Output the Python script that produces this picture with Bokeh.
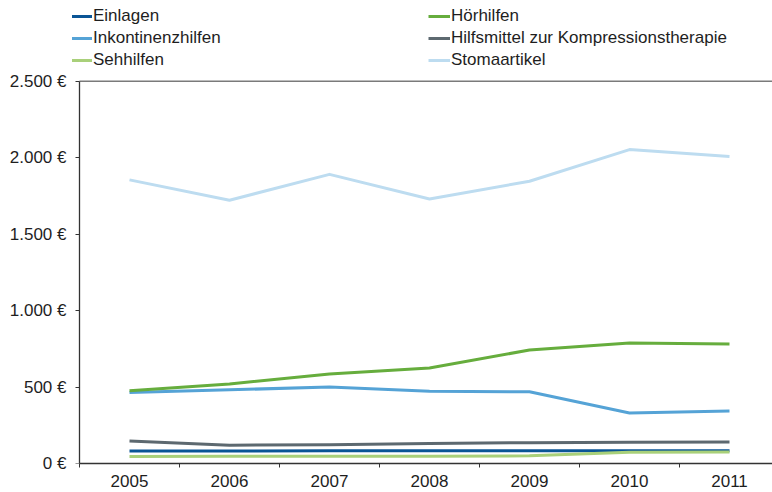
from bokeh.plotting import figure
from bokeh.models import Legend, LegendItem, FixedTicker, Range1d, LinearAxis
from bokeh.embed import file_html
from bokeh.resources import INLINE

years = [2005, 2006, 2007, 2008, 2009, 2010, 2011]
year_bounds = [2004.5, 2005.5, 2006.5, 2007.5, 2008.5, 2009.5, 2010.5, 2011.5]

einlagen = [82, 82, 83, 83, 84, 84, 84]
hoerhilfen = [476, 520, 585, 625, 742, 788, 781]
inkontinenz = [465, 482, 500, 473, 469, 330, 343]
kompression = [147, 120, 122, 131, 136, 139, 140]
sehhilfen = [46, 47, 48, 48, 50, 74, 75]
stoma = [1855, 1722, 1891, 1730, 1846, 2053, 2007]

y_ticks = [0, 500, 1000, 1500, 2000, 2500]
y_tick_labels = ["0 €", "500 €", "1.000 €", "1.500 €", "2.000 €", "2.500 €"]

FONT = "Liberation Sans"
FS = "17px"
TXT = "#1e1e1e"
AX = "#333333"

# frame spans the whole canvas height above the x axis, so the legend sits inside it
p = figure(width=772, height=492, output_backend="svg", toolbar_location=None,
           x_range=Range1d(2004.43, 2011.43), y_range=Range1d(0, 3028),
           min_border_left=72, min_border_top=0, min_border_bottom=29, min_border_right=0)
p.grid.visible = False
p.outline_line_color = None
p.background_fill_color = "white"

xa = p.xaxis[0]
xa.ticker = FixedTicker(ticks=years, minor_ticks=year_bounds)
xa.bounds = (year_bounds[0], year_bounds[-1])
xa.major_label_overrides = {y: str(y) for y in years}
xa.major_tick_in = 0
xa.major_tick_out = 0
xa.minor_tick_in = 0
xa.minor_tick_out = 4
xa.minor_tick_line_color = AX
xa.axis_line_color = AX
xa.axis_line_width = 1.3
xa.major_label_standoff = 7
xa.major_label_text_font = FONT
xa.major_label_text_font_size = FS
xa.major_label_text_color = TXT

# labels-only y axis at the frame's left edge
ya = p.yaxis[0]
ya.ticker = FixedTicker(ticks=y_ticks)
ya.major_label_overrides = {t: l for t, l in zip(y_ticks, y_tick_labels)}
ya.axis_line_color = None
ya.major_tick_line_color = None
ya.minor_tick_line_color = None
ya.major_tick_in = 0
ya.major_tick_out = 0
ya.major_label_standoff = 6
ya.major_label_text_font = FONT
ya.major_label_text_font_size = FS
ya.major_label_text_color = TXT

# y axis line and ticks at the category boundary
ya2 = LinearAxis(fixed_location=year_bounds[0], bounds=(y_ticks[0], y_ticks[-1]),
                 ticker=FixedTicker(ticks=y_ticks),
                 major_label_overrides={t: "" for t in y_ticks},
                 major_label_text_font_size="0px", major_label_standoff=0,
                 major_tick_in=0, major_tick_out=4, minor_tick_line_color=None,
                 major_tick_line_color=AX, axis_line_color=AX, axis_line_width=1.3)
p.add_layout(ya2, "left")

# top border of the plot area
p.line(x=[year_bounds[0], year_bounds[-1]], y=[y_ticks[-1], y_ticks[-1]],
       line_color="#7a7a7a", line_width=1.5)

series = [
    ("Einlagen", einlagen, "#0a5596"),
    ("Inkontinenzhilfen", inkontinenz, "#55a3d6"),
    ("Hörhilfen", hoerhilfen, "#66ad3d"),
    ("Hilfsmittel zur Kompressionstherapie", kompression, "#5d6970"),
    ("Sehhilfen", sehhilfen, "#a9d07a"),
    ("Stomaartikel", stoma, "#bddcf0"),
]
rend = {}
for name, vals, col in series:
    rend[name] = p.line(years, vals, line_color=col, line_width=3, line_join="round")

def make_legend(names, loc):
    items = [LegendItem(label=n, renderers=[rend[n]]) for n in names]
    return Legend(items=items, location=loc, orientation="vertical",
                  glyph_width=22, glyph_height=20, label_height=20, label_standoff=1,
                  spacing=2, padding=0, margin=0, border_line_color=None,
                  background_fill_alpha=0, label_text_font=FONT,
                  label_text_font_size=FS, label_text_color=TXT)

p.add_layout(make_legend(["Einlagen", "Inkontinenzhilfen", "Sehhilfen"], (-2, 393)), "center")
p.add_layout(make_legend(["Hörhilfen", "Hilfsmittel zur Kompressionstherapie", "Stomaartikel"], (356, 393)), "center")

open("out.html", "w").write(file_html(p, INLINE))
